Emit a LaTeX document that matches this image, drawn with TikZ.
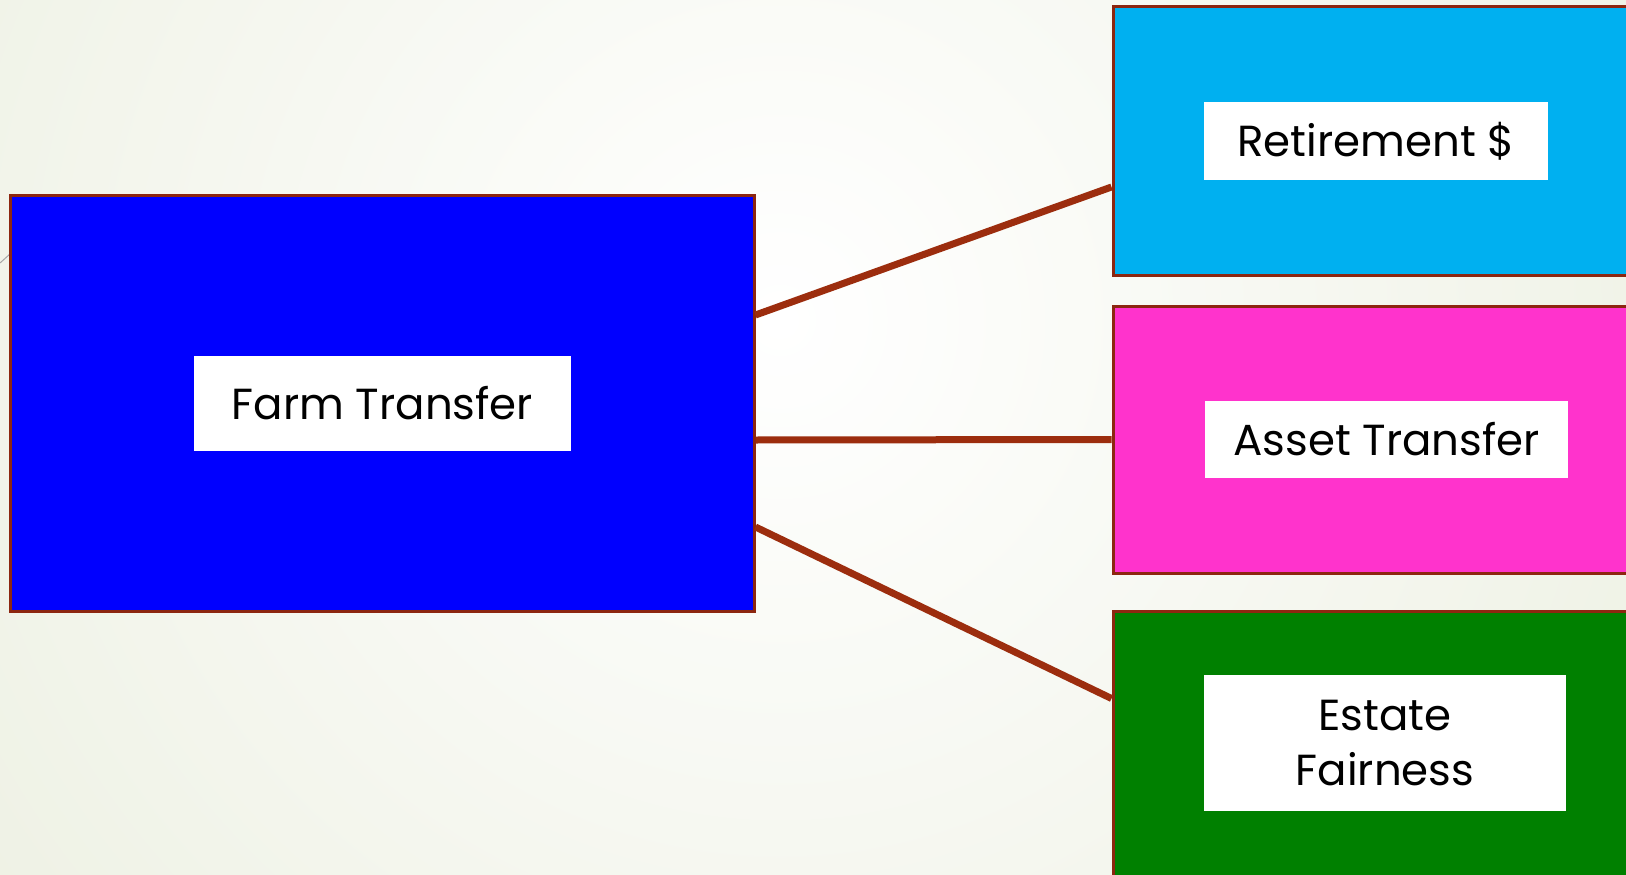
\documentclass[tikz,border=0pt]{standalone}
\usepackage{fontspec}
\setmainfont{Poppins}
\usetikzlibrary{calc}
\definecolor{bgout}{RGB}{238,241,228}
\definecolor{linkc}{RGB}{156,45,14}
\definecolor{edgec}{RGB}{140,38,16}
\definecolor{farmc}{RGB}{0,0,255}
\definecolor{retc}{RGB}{0,176,240}
\definecolor{assetc}{RGB}{255,51,204}
\definecolor{estatec}{RGB}{0,128,0}
\tikzset{
  bigbox/.style={draw=edgec, line width=3pt, rectangle, inner sep=0pt},
  labelbox/.style={fill=white, rectangle, inner sep=0pt, align=center,
    font=\fontsize{43.5}{55}\selectfont, text=black},
  link/.style={draw=linkc, line width=7pt}
}
\begin{document}
\begin{tikzpicture}[x=1pt,y=-1pt]
\useasboundingbox (0,0) rectangle (1626,875);
\clip (0,0) rectangle (1626,875);
\fill[bgout] (0,0) rectangle (1626,875);
\shade[inner color=white, outer color=bgout] (780,320) circle (1000);
\draw[gray!70, line width=1pt] (0,263) -- (10,254);
% boxes
\node[bigbox, fill=farmc, minimum width=744pt, minimum height=416pt] (farm) at (382,403) {};
\node[bigbox, fill=retc, minimum width=530pt, minimum height=268pt] (ret) at (1378,141) {};
\node[bigbox, fill=assetc, minimum width=530pt, minimum height=267pt] (asset) at (1378,439.5) {};
\node[bigbox, fill=estatec, minimum width=530pt, minimum height=279pt] (estate) at (1378,750.5) {};
% labels
\node[labelbox, minimum width=377pt, minimum height=95pt] (farml) at (382.5,403.5) {Farm Transfer};
\node[labelbox, minimum width=344pt, minimum height=78pt] (retl) at (1376,141) {Retirement \$};
\node[labelbox, minimum width=363pt, minimum height=77pt] (assetl) at (1386.5,439.5) {Asset Transfer};
\node[labelbox, minimum width=362pt, minimum height=136pt] (estatel) at (1385,743) {Estate\\Fairness};
% connectors
\draw[link] ([yshift=88pt]farm.east) -- ([yshift=-46pt]ret.west);
\draw[link] ([yshift=-37pt]farm.east) -- ([yshift=0pt]asset.west);
\draw[link] ([yshift=-124pt]farm.east) -- ([yshift=52pt]estate.west);
\end{tikzpicture}
\end{document}
